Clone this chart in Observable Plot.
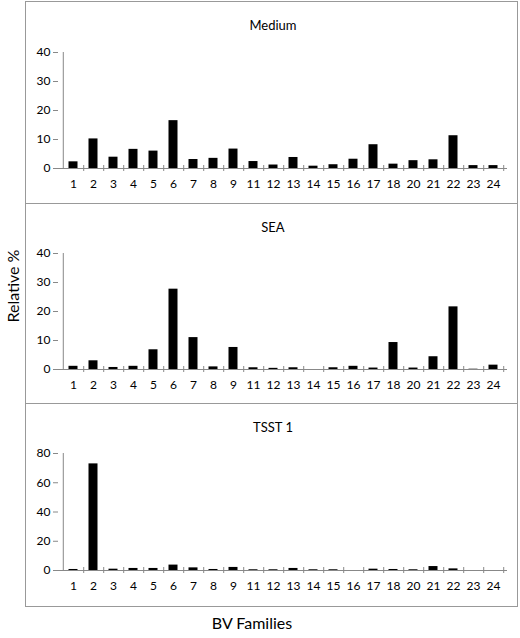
<!DOCTYPE html>
<html>
<head>
<meta charset="utf-8">
<script src="https://cdn.jsdelivr.net/npm/d3@7"></script>
<script src="https://cdn.jsdelivr.net/npm/@observablehq/plot@0.6"></script>
<style>
  html, body { margin: 0; padding: 0; background: #fff; }
  #root { position: relative; width: 520px; height: 638px; font-family: Lato, "Open Sans", sans-serif; color: #000; }
  .panel { position: absolute; left: 26px; }
  .line { position: absolute; background: #999; }
  .lbl { position: absolute; white-space: nowrap; }
</style>
</head>
<body>
<div id="root">
  <div class="line" style="left:25px;top:1px;width:493px;height:1px"></div>
  <div class="line" style="left:25px;top:606px;width:493px;height:1px"></div>
  <div class="line" style="left:25px;top:1px;width:1px;height:606px"></div>
  <div class="line" style="left:517px;top:1px;width:1px;height:606px"></div>
  <div class="line" style="left:25px;top:203px;width:493px;height:1px"></div>
  <div class="line" style="left:25px;top:403px;width:493px;height:1px"></div>
  <div id="p1" class="panel" style="top:2px"></div>
  <div id="p2" class="panel" style="top:204px"></div>
  <div id="p3" class="panel" style="top:404px"></div>
  <div class="lbl" style="left:252px;top:622px;transform:translate(-50%,-50%);font-size:16px">BV Families</div>
  <div class="lbl" style="left:12px;top:286px;transform:translate(-50%,-50%) rotate(-90deg);font-size:16px">Relative %</div>
</div>
<script>
const families = ["1","2","3","4","5","6","7","8","9","11","12","13","14","15","16","17","18","20","21","22","23","24"];
const mediumValues = [2.3,10.2,3.9,6.6,6.0,16.5,3.1,3.5,6.7,2.4,1.2,3.8,0.8,1.3,3.2,8.2,1.5,2.7,3.0,11.3,1.0,1.0];
const seaValues    = [1.1,3.0,0.7,1.1,6.8,27.7,11.0,0.9,7.6,0.6,0.4,0.6,0,0.6,1.1,0.5,9.3,0.5,4.4,21.6,0.1,1.5];
const tsstValues   = [0.7,72.9,0.9,1.4,1.4,3.7,1.8,0.7,2.1,0.5,0.5,1.4,0.5,0.5,0,0.9,0.7,0.5,2.7,1.1,0,0];
const ticks40 = [0,10,20,30,40];
const ticks80 = [0,20,40,60,80];

const W = 491, ML = 32, MR = 10;
const step = (W - ML - MR) / families.length;

function panel(el, title, values, yMax, yTicks, height, marginTop, marginBottom) {
  const data = families.map((c, i) => ({c, v: values[i]}));
  const chart = Plot.plot({
    width: W, height, marginLeft: ML, marginRight: MR, marginTop, marginBottom,
    style: {fontFamily: "Lato, 'Open Sans', sans-serif", fontSize: "12px", color: "#000", background: "transparent"},
    x: {domain: families, padding: 0},
    y: {domain: [0, yMax]},
    marks: [
      Plot.axisX({tickSize: 0, tickPadding: 11, label: null, fontSize: 12}),
      Plot.axisY({ticks: yTicks, tickSize: 5, tickPadding: 3, label: null, stroke: "#888", fontSize: 12}),
      Plot.ruleX([families[0]], {x: d => d, y1: 0, y2: yMax, dx: -step / 2, stroke: "#888"}),
      Plot.barY(data, {x: "c", y: "v", fill: "black", insetLeft: 5.5, insetRight: 5.5}),
      Plot.ruleY([0], {stroke: "#888"}),
      Plot.ruleX(families, {x: d => d, y1: 0, y2: 0, dx: step / 2, insetTop: -3, insetBottom: -3, stroke: "#888"}),
      Plot.text([title], {frameAnchor: "top", dy: 18 - marginTop, dx: -10, fontSize: 13})
    ]
  });
  document.getElementById(el).appendChild(chart);
}

panel("p1", "Medium", mediumValues, 40, ticks40, 201, 50, 35);
panel("p2", "SEA", seaValues, 40, ticks40, 199, 49, 34);
panel("p3", "TSST 1", tsstValues, 80, ticks80, 201, 49, 35);
</script>
</body>
</html>
